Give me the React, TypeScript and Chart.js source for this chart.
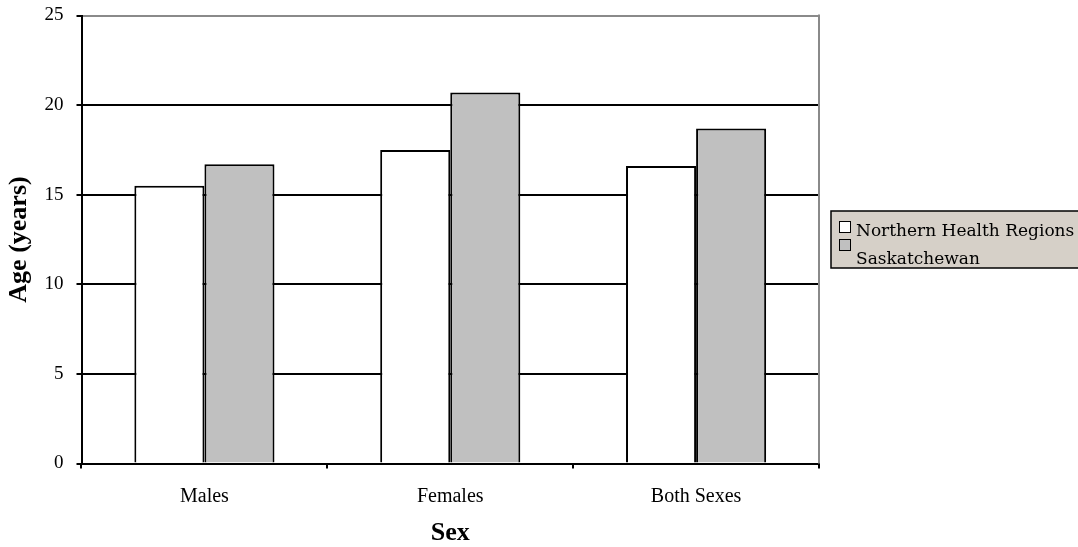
import React, { useEffect, useRef } from "react";
import { Chart, registerables } from "chart.js";

Chart.register(...registerables);

const categories = ["Males", "Females", "Both Sexes"];
const northernValues = [15.5, 17.5, 16.6];
const saskValues = [16.7, 20.7, 18.7];
const seriesNames = ["Northern Health Regions", "Saskatchewan"];
const seriesColors = ["#ffffff", "#c0c0c0"];
const yMin = 0;
const yMax = 25;
const yStep = 5;

const legendPlugin = {
  id: "customLegend",
  afterDraw(chart: any) {
    const ctx = chart.ctx;
    const area = chart.chartArea;
    ctx.save();
    ctx.strokeStyle = "#8a8a8a";
    ctx.lineWidth = 2;
    ctx.beginPath();
    ctx.moveTo(area.right, area.top - 1);
    ctx.lineTo(area.right, area.bottom);
    ctx.stroke();

    const bx = 831, by = 211, bw = 260, bh = 57;
    ctx.fillStyle = "#d6d0c8";
    ctx.fillRect(bx, by, bw, bh);
    ctx.strokeStyle = "#000";
    ctx.lineWidth = 1.5;
    ctx.strokeRect(bx, by, bw, bh);

    const items = [
      { sq: 221, base: 236 },
      { sq: 239, base: 264 },
    ];
    ctx.font = '17px "DejaVu Serif"';
    ctx.textBaseline = "alphabetic";
    ctx.textAlign = "left";
    items.forEach((it, i) => {
      ctx.fillStyle = seriesColors[i];
      ctx.fillRect(839.5, it.sq + 0.5, 11, 11);
      ctx.strokeStyle = "#000";
      ctx.lineWidth = 1;
      ctx.strokeRect(839.5, it.sq + 0.5, 11, 11);
      ctx.fillStyle = "#000";
      ctx.fillText(seriesNames[i], 856, it.base);
    });
    ctx.restore();
  },
};

export default function App() {
  const canvasRef = useRef<HTMLCanvasElement | null>(null);

  useEffect(() => {
    const canvas = canvasRef.current;
    if (!canvas) return;
    const chart = new Chart(canvas, {
      type: "bar",
      data: {
        labels: categories,
        datasets: [
          {
            label: seriesNames[0],
            data: northernValues,
            backgroundColor: seriesColors[0],
            borderColor: "#000",
            borderWidth: 2,
            categoryPercentage: 0.57,
            barPercentage: 1.0,
          },
          {
            label: seriesNames[1],
            data: saskValues,
            backgroundColor: seriesColors[1],
            borderColor: "#000",
            borderWidth: 2,
            categoryPercentage: 0.57,
            barPercentage: 1.0,
          },
        ],
      },
      options: {
        responsive: false,
        animation: false,
        layout: { padding: { left: 0, right: 259, top: 15.5, bottom: 0 } },
        plugins: {
          legend: { display: false },
          tooltip: { enabled: false },
        },
        scales: {
          x: {
            grid: {
              offset: true,
              drawOnChartArea: false,
              drawTicks: true,
              tickLength: 5,
              color: "#000",
              lineWidth: 2,
            },
            border: { color: "#000", width: 2 },
            ticks: {
              color: "#000",
              padding: 16,
              font: { family: '"Liberation Serif"', size: 20 },
              maxRotation: 0,
            },
            title: {
              display: true,
              text: "Sex",
              color: "#000",
              font: { family: '"Liberation Serif"', size: 26, weight: "bold", lineHeight: 1 },
              padding: { top: 0, bottom: 1 },
            },
            afterFit(scale: any) {
              scale.height = 83.5;
              scale.paddingLeft = 0;
              scale.paddingRight = 0;
            },
          },
          y: {
            min: yMin,
            max: yMax,
            grid: {
              color: (c: any) => (c.tick && c.tick.value === yMax ? "#8a8a8a" : "#000"),
              lineWidth: 2,
              tickLength: 5,
              tickColor: "#000",
              drawTicks: true,
            },
            border: { color: "#000", width: 2 },
            ticks: {
              stepSize: yStep,
              color: "#000",
              padding: 13,
              font: { family: '"Liberation Serif"', size: 19 },
            },
            title: {
              display: true,
              text: "Age (years)",
              color: "#000",
              font: { family: '"Liberation Serif"', size: 26, weight: "bold", lineHeight: 1.2 },
              padding: { top: 4, bottom: 0 },
            },
            afterFit(scale: any) {
              scale.width = 81.5;
              scale.paddingTop = 0;
              scale.paddingBottom = 0;
            },
          },
        },
      },
      plugins: [legendPlugin],
    });
    return () => chart.destroy();
  }, []);

  return (
    <div style={{ position: "absolute", left: 0, top: 0, width: 1078, height: 547, background: "#fff" }}>
      <canvas ref={canvasRef} width={1078} height={547} style={{ display: "block" }} />
    </div>
  );
}
